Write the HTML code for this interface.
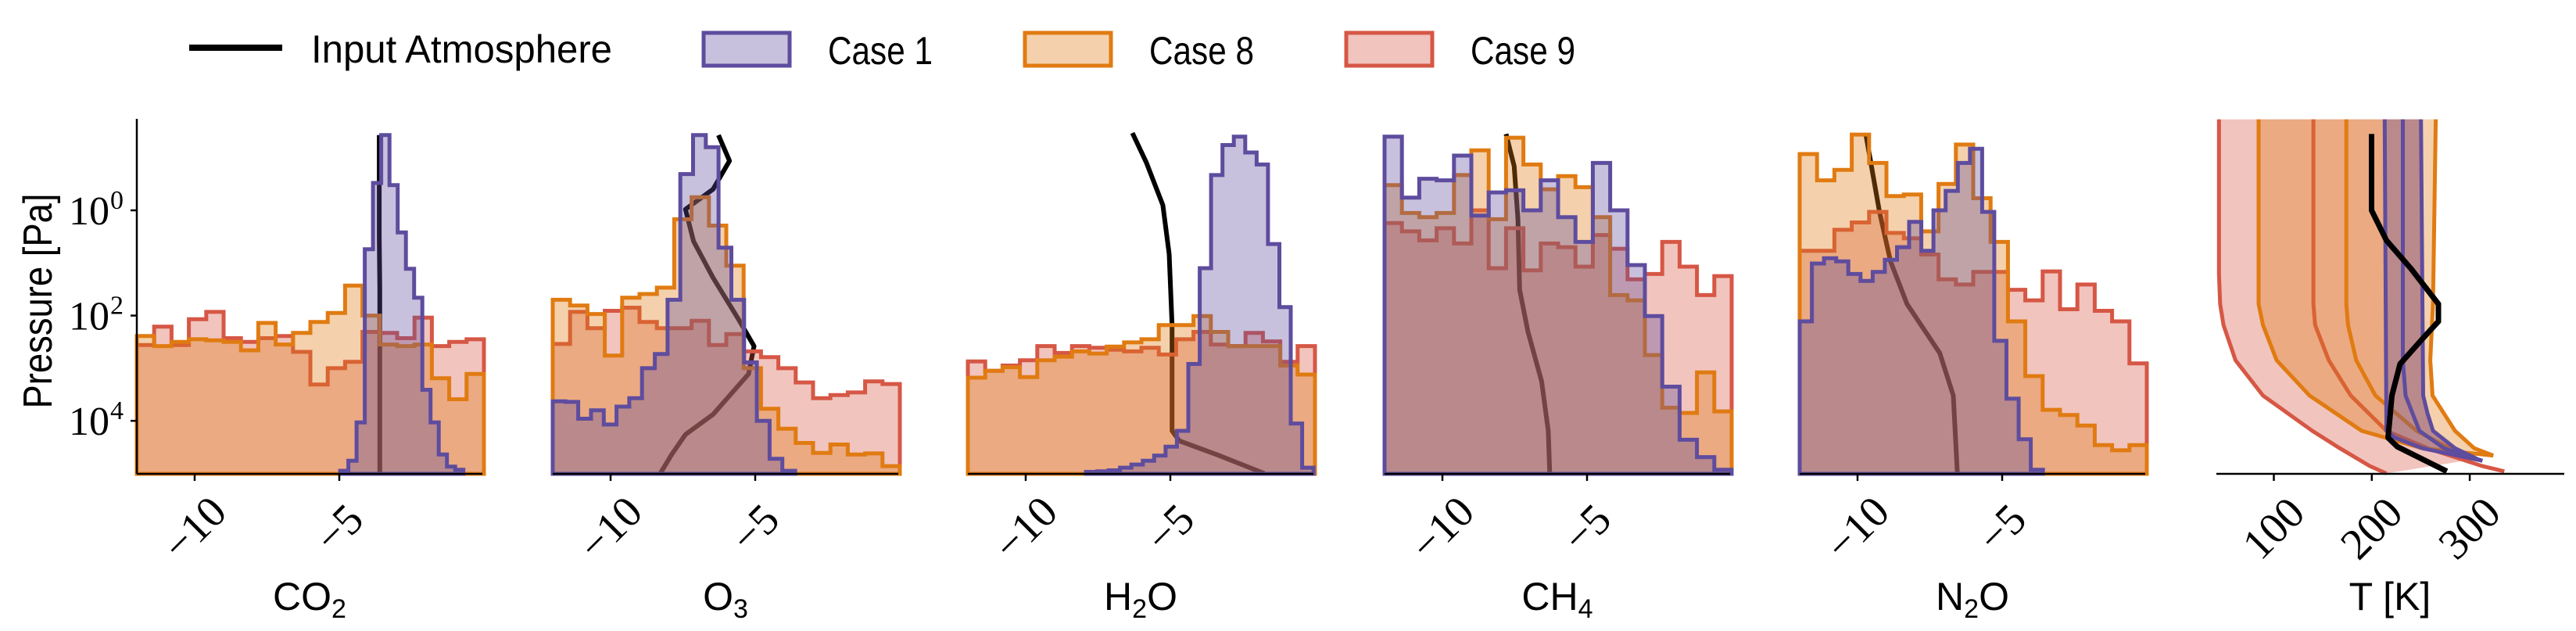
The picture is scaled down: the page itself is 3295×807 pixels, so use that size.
<!DOCTYPE html>
<html><head><meta charset="utf-8">
<style>
html,body{margin:0;padding:0;background:#fff;}
svg{display:block;}
text{font-family:"Liberation Sans",sans-serif;fill:#000;}
.serif{font-family:"Liberation Serif",serif;}
</style></head>
<body>
<svg id="fig" xmlns="http://www.w3.org/2000/svg" width="3295" height="807" viewBox="0 0 3295 807">
  <g id="legend">
    <line x1="242" y1="61" x2="361" y2="61" stroke="#000" stroke-width="8"/>
    <text x="398" y="80" font-size="50" textLength="385" lengthAdjust="spacingAndGlyphs">Input Atmosphere</text>
    <rect x="900" y="42" width="110" height="42" fill="rgba(94,76,158,0.35)" stroke="#5e4c9e" stroke-width="5"/>
    <text x="1059" y="82" font-size="50" textLength="134" lengthAdjust="spacingAndGlyphs">Case 1</text>
    <rect x="1311" y="42" width="110" height="42" fill="rgba(224,123,18,0.35)" stroke="#e07b12" stroke-width="5"/>
    <text x="1470" y="82" font-size="50" textLength="134" lengthAdjust="spacingAndGlyphs">Case 8</text>
    <rect x="1722" y="42" width="110" height="42" fill="rgba(214,87,69,0.35)" stroke="#d65745" stroke-width="5"/>
    <text x="1881" y="82" font-size="50" textLength="134" lengthAdjust="spacingAndGlyphs">Case 9</text>
  </g>
  <text x="0" y="0" font-size="52" text-anchor="middle" textLength="275" lengthAdjust="spacingAndGlyphs" transform="translate(66,385) rotate(-90)">Pressure [Pa]</text>
  <g id="plots"></g>
</svg>
<script>
// ---------------- data ----------------
const panelNames = ["CO2","O3","H2O","CH4","N2O"];
const xTicks = [-10, -5];
const xTickLabels = ["\u221210", "\u22125"];
const yTicks = [0, 2, 4];
const tTicks = [100, 200, 300];

// histogram bin ranges [start, end] in log10 abundance
const case1Range = [[-4.97,-0.71],[-12,-3.62],[-7.92,-0.05],[-12,0],[-12,-3.59]];
const case8Range = [[-12,0],[-12,0],[-12,0],[-12,0],[-12,0]];
const case9Range = [[-12,0],[-12,0],[-12,0],[-12,0],[-12,0]];

// bin tops in log10 pressure [Pa]
const case1CO2 = [4.95,4.76,4.03,0.74,-0.52,-1.43,-0.48,0.42,1.11,1.66,3.41,4.03,4.64,4.87,4.93];
const case8CO2 = [2.39,2.58,2.50,2.45,2.47,2.50,2.66,2.14,2.55,2.33,2.12,1.95,1.43,2.0,2.55,2.58,2.55,3.19,3.59,3.11];
const case9CO2 = [2.56,2.21,2.56,2.07,1.93,2.43,2.50,2.43,2.39,2.69,3.31,3.0,2.88,2.31,2.33,2.43,2.04,2.58,2.50,2.45];

const case1O3 = [3.63,3.64,3.96,3.80,4.07,3.73,3.57,3.0,2.73,1.70,-0.69,-1.43,-1.20,0.71,1.70,2.89,4.0,4.72,4.95];
const case8O3 = [1.70,1.81,1.97,2.76,1.66,1.59,1.47,0.17,-0.25,0.29,1.05,3.0,3.77,4.15,4.42,4.61,4.45,4.64,4.62,4.86];
const case9O3 = [2.54,1.93,2.24,1.91,1.85,2.12,2.24,2.24,2.10,2.56,2.35,2.68,2.79,3.0,3.27,3.57,3.51,3.46,3.25,3.3];

const case1H2O = [4.97,4.96,4.94,4.89,4.83,4.76,4.66,4.49,4.19,2.92,1.10,-0.67,-1.24,-1.40,-1.10,-0.87,0.64,1.84,4.05,4.89];
const case8H2O = [3.18,3.05,2.98,3.17,2.85,2.78,2.68,2.72,2.59,2.51,2.45,2.18,2.18,2.01,2.31,2.58,2.58,2.58,2.95,3.12];
const case9H2O = [2.87,3.05,2.95,2.85,2.58,2.71,2.58,2.61,2.65,2.68,2.61,2.74,2.45,2.31,2.55,2.58,2.33,2.49,2.88,2.58];

const case1CH4 = [-1.40,-0.24,-0.60,-0.57,-1.04,0.10,-0.34,-0.38,0.00,-0.57,0.13,0.60,-0.90,0.0,1.04,2.01,3.35,4.36,4.69,4.93];
const case8CH4 = [-0.48,0.05,0.13,0.05,-0.67,-1.14,0.17,-1.38,-0.87,-0.40,-0.65,-0.44,0.13,1.61,1.71,2.75,3.75,3.85,3.08,3.82];
const case9CH4 = [0.24,0.40,0.57,0.34,0.63,0.00,1.10,0.34,1.14,0.63,0.70,1.07,0.47,0.73,1.31,1.21,0.60,1.07,1.61,1.25];

const case1N2O = [2.11,1.01,0.91,0.97,1.21,1.34,1.17,0.94,0.70,0.22,0.77,0.0,-0.37,-0.90,-1.17,0.03,2.48,3.58,4.35,4.93];
const case8N2O = [-1.07,-0.57,-0.77,-1.44,-0.90,-0.27,-0.30,0.40,-0.50,-1.25,-0.23,0.60,2.11,3.15,3.79,3.89,4.09,4.46,4.56,4.46];
const case9N2O = [0.77,0.77,0.37,0.23,0.03,0.43,0.53,0.84,1.31,1.41,1.17,1.17,1.51,1.71,1.16,1.88,1.41,1.91,2.11,2.91];

// input atmosphere profiles: abundance (x) vs log10 P
const inputCO2X = [-3.62,-3.62,-3.60,-3.60];
const inputCO2P = [-1.43,0.5,1.5,5.0];
const inputO3X = [-6.27,-5.89,-6.46,-7.41,-7.13,-6.46,-5.61,-5.04,-5.23,-6.46,-7.41,-7.89,-8.27];
const inputO3P = [-1.43,-0.94,-0.40,-0.02,0.59,1.28,2.04,2.58,3.11,3.88,4.26,4.64,4.99];
const inputH2OX = [-6.31,-5.83,-5.26,-5.04,-4.94,-4.94,-4.69,-3.36,-1.75];
const inputH2OP = [-1.47,-0.91,-0.10,0.83,2.18,4.19,4.38,4.65,5.0];
const inputCH4X = [-7.80,-7.52,-7.39,-7.33,-7.04,-6.57,-6.34,-6.29];
const inputCH4P = [-1.45,-0.84,0.17,1.51,2.31,3.25,4.19,5.0];
const inputN2OX = [-9.72,-9.24,-8.86,-8.29,-7.16,-6.69,-6.55];
const inputN2OP = [-1.46,0.03,0.97,1.78,2.71,3.52,5.0];

// temperature panel
const inputTT = [199.8,199.8,214.9,240.1,268,268,251.3,228.9,220.5,216.6,226,276.5];
const inputTP = [-1.45,0.0,0.57,1.11,1.78,2.11,2.45,2.92,3.52,4.32,4.49,4.96];
const case9OuterT = [44,44,45.2,48.6,60.9,88.9,139.3,167.3,198.1,214.9];
const case9OuterP = [-1.73,1.2,1.78,2.18,2.85,3.52,4.19,4.52,4.86,5.0];
const case9InnerT = [140.4,140.4,142.1,156.1,178.5,214.9,256.9,312.9,335.3];
const case9InnerP = [-1.73,1.78,2.18,2.85,3.52,4.19,4.52,4.86,4.96];
const case8LeftT = [84.4,84.4,88.9,102.9,136.5,189.7,251.3,324];
const case8LeftP = [-1.73,1.78,2.18,2.85,3.52,4.19,4.52,4.66];
const case8InnerT = [174,174,175.7,184.1,203.7,245.7,279.3,296.1];
const case8InnerP = [-1.73,1.78,2.18,2.85,3.52,4.19,4.52,4.62];
const case8RightT = [265.3,262.5,259.7,262,273.7,284.9,304.5,324];
const case8RightP = [-1.73,1.78,2.85,3.52,3.86,4.19,4.52,4.66];
const case1LeftT = [213.2,214.9,223.3,251.3,312.9];
const case1LeftP = [-1.73,4.19,4.32,4.52,4.76];
const case1MidT = [231.7,231.7,234.5,248.6,273.7,312.9];
const case1MidP = [-1.73,2.85,3.52,4.19,4.52,4.76];
const case1RightT = [250.2,252.4,256.9,262.5,284.9,307.3];
const case1RightP = [-1.73,3.52,3.86,4.19,4.52,4.72];

// ---------------- drawing ----------------
const NS = "http://www.w3.org/2000/svg";
const root = document.getElementById("plots");
const panelLeft = [175,707,1238,1771,2302];
const panelW = 442, axTop = 152, axBot = 606;
const COL = {c1:"#5e4c9e", c8:"#e07b12", c9:"#d65745"};
const FILL = {c1:"rgba(94,76,158,0.35)", c8:"rgba(224,123,18,0.35)", c9:"rgba(214,87,69,0.35)"};
function yScale(lp){ return Math.min(axBot, Math.max(axTop, 269 + 67.3*lp)); }
function xScaleFor(i){ const l = panelLeft[i]; return v => l + (v+12)*37; }
function tScale(t){ return 2908.5 + (t-100)*1.253; }
function mk(tag, attrs, parent){ const e=document.createElementNS(NS,tag); for(const k in attrs) e.setAttribute(k,attrs[k]); parent.appendChild(e); return e; }

const hist = {
  c1:[case1CO2,case1O3,case1H2O,case1CH4,case1N2O],
  c8:[case8CO2,case8O3,case8H2O,case8CH4,case8N2O],
  c9:[case9CO2,case9O3,case9H2O,case9CH4,case9N2O]};
const ranges = {c1:case1Range,c8:case8Range,c9:case9Range};
const inputs = [[inputCO2X,inputCO2P],[inputO3X,inputO3P],[inputH2OX,inputH2OP],[inputCH4X,inputCH4P],[inputN2OX,inputN2OP]];
const subs = [["CO","2",""],["O","3",""],["H","2","O"],["CH","4",""],["N","2","O"]];

for(let i=0;i<5;i++){
  const xs = xScaleFor(i);
  const g = mk("g",{},root);
  
  
  const [ix,ip] = inputs[i];
  let d = "";
  for(let k=0;k<ix.length;k++) d += (k?"L":"M")+xs(ix[k]).toFixed(1)+" "+yScale(ip[k]).toFixed(1);
  const ln = mk("path",{d:d,fill:"none",stroke:"#000","stroke-width":6,"stroke-linejoin":"round"},g);
  
  
  for(const c of ["c9","c8","c1"]){
    const vals = hist[c][i], r = ranges[c][i];
    const n = vals.length, w = (r[1]-r[0])/n;
    let p = "M"+xs(r[0]).toFixed(1)+" "+axBot;
    for(let k=0;k<n;k++){
      const y = yScale(vals[k]).toFixed(1);
      p += "L"+xs(r[0]+k*w).toFixed(1)+" "+y+"L"+xs(r[0]+(k+1)*w).toFixed(1)+" "+y;
    }
    p += "L"+xs(r[1]).toFixed(1)+" "+axBot+"Z";
    const h = mk("path",{d:p,fill:FILL[c],stroke:COL[c],"stroke-width":5,"stroke-linejoin":"miter"},g);
    
    
  }
  const sl = mk("line",{x1:panelLeft[i],y1:axBot,x2:panelLeft[i]+panelW,y2:axBot,stroke:"#000","stroke-width":2.5},g);
  
  
  if(i===0){
    const ly = mk("line",{x1:175,y1:axTop,x2:175,y2:axBot,stroke:"#000","stroke-width":2.5},g);
    
    
    for(const t of yTicks){
      const y = yScale(t);
      const tk = mk("line",{x1:167,y1:y,x2:175,y2:y,stroke:"#000","stroke-width":2.5},g);
      
      
      const tx = mk("text",{x:140,y:y+18,"font-size":52,"text-anchor":"end",class:"serif"},g);
      
      
      tx.textContent = "10";
      const sup = mk("text",{x:141,y:y-2,"font-size":34,class:"serif"},g);
      
      
      sup.textContent = String(t);
    }
  }
  for(let k=0;k<xTicks.length;k++){
    const x = xs(xTicks[k]);
    const tk = mk("line",{x1:x,y1:axBot,x2:x,y2:axBot+9,stroke:"#000","stroke-width":2.5},g);
    
    
    const tx = mk("text",{x:0,y:0,"font-size":56,"text-anchor":"middle","dominant-baseline":"central",class:"serif",transform:"translate("+x+",676) rotate(-45)"},g);
    
    
    tx.textContent = xTickLabels[k];
  }
  const cx = panelLeft[i]+panelW/2;
  const lab = mk("text",{x:cx,y:780,"font-size":50,"text-anchor":"middle"},g);
  
  
  const s = subs[i];
  lab.appendChild(document.createTextNode(s[0]));
  const sb = document.createElementNS(NS,"tspan"); sb.setAttribute("font-size","34"); sb.setAttribute("dy","10"); sb.textContent = s[1]; lab.appendChild(sb);
  if(s[2]){ const t2=document.createElementNS(NS,"tspan"); t2.setAttribute("dy","-10"); t2.textContent=s[2]; lab.appendChild(t2); }
}

// temperature panel
const tg = mk("g",{},root);


function curvePts(T,P){ const a=[]; for(let k=0;k<T.length;k++) a.push([tScale(T[k]), yScale(P[k])]); return a; }
function band(T1,P1,T2,P2,fill,name){
  const a = curvePts(T1,P1), b = curvePts(T2,P2).reverse();
  let d = "";
  a.concat(b).forEach((p,k)=>{ d += (k?"L":"M")+p[0].toFixed(1)+" "+p[1].toFixed(1); });
  const e = mk("path",{d:d+"Z",fill:fill,stroke:"none"},tg);
  
  
}
function curve(T,P,col,w,name){
  let d=""; curvePts(T,P).forEach((p,k)=>{ d += (k?"L":"M")+p[0].toFixed(1)+" "+p[1].toFixed(1); });
  const e = mk("path",{d:d,fill:"none",stroke:col,"stroke-width":w,"stroke-linejoin":"round"},tg);
  
  
}
curve(inputTT,inputTP,"#000",7,"temperature-input-line");
band(case9OuterT,case9OuterP,case1RightT,case1RightP,FILL.c9,"temperature-band-case9");
curve(case9OuterT,case9OuterP,COL.c9,5,"temperature-case9-outer");
curve(case9InnerT,case9InnerP,COL.c9,5,"temperature-case9-inner");
band(case8LeftT,case8LeftP,case8RightT,case8RightP,FILL.c8,"temperature-band-case8");
curve(case8LeftT,case8LeftP,COL.c8,5,"temperature-case8-left");
curve(case8InnerT,case8InnerP,COL.c8,5,"temperature-case8-inner");
curve(case8RightT,case8RightP,COL.c8,5,"temperature-case8-right");
band(case1LeftT,case1LeftP,case1RightT,case1RightP,FILL.c1,"temperature-band-case1");
curve(case1LeftT,case1LeftP,COL.c1,5,"temperature-case1-left");
curve(case1MidT,case1MidP,COL.c1,5,"temperature-case1-mid");
curve(case1RightT,case1RightP,COL.c1,5,"temperature-case1-right");
curve(inputTT,inputTP,"#000",7,"temperature-input-line-top");
const tax = mk("line",{x1:2835,y1:axBot,x2:3280,y2:axBot,stroke:"#000","stroke-width":2.5},tg);


for(const t of tTicks){
  const x = tScale(t);
  const tk = mk("line",{x1:x,y1:axBot,x2:x,y2:axBot+9,stroke:"#000","stroke-width":2.5},tg);
  
  
  const tx = mk("text",{x:0,y:0,"font-size":56,"text-anchor":"middle","dominant-baseline":"central",class:"serif",transform:"translate("+x+",676) rotate(-45)"},tg);
  
  
  tx.textContent = String(t);
}
const tl = mk("text",{x:3057,y:780,"font-size":50,"text-anchor":"middle"},tg);


tl.textContent = "T [K]";
</script>
</body></html>
